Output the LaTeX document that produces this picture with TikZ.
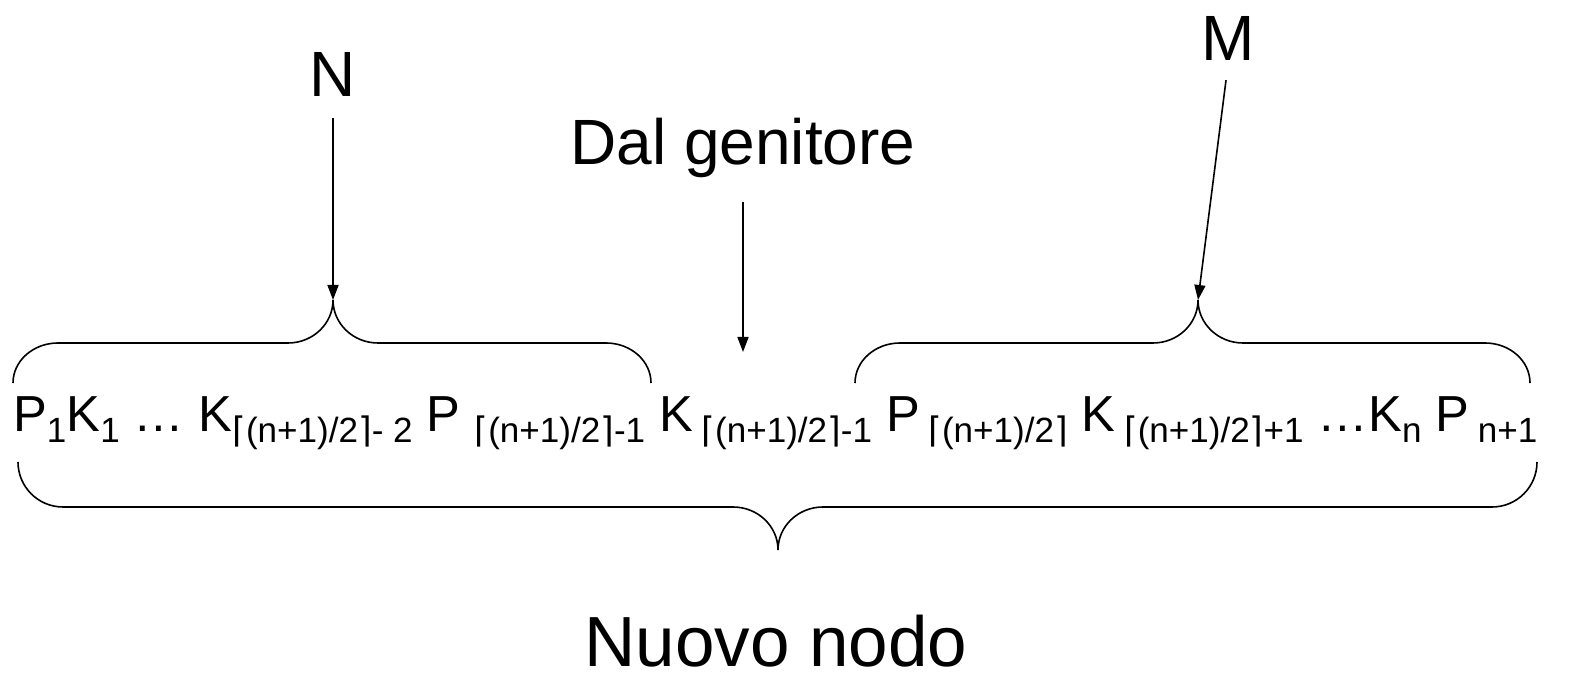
\documentclass[tikz,border=0pt]{standalone}
\usepackage{fontspec}
\setmainfont{Liberation Sans}
\newfontfamily\djv{DejaVu Sans}
\usetikzlibrary{arrows.meta}
\newcommand\lc{{\djv\char"2308}}
\newcommand\rc{{\djv\char"2309}}
\newcommand\sbx[1]{\raisebox{-11pt}{\fontsize{36}{38}\selectfont #1}}
\begin{document}
\begin{tikzpicture}[x=1pt,y=1pt,
  lbl/.style={inner sep=0pt,font=\fontsize{#1}{#1}\selectfont},
  brace/.style={line width=1.6pt,black},
  arr/.style={line width=1.6pt,-{Triangle[length=15pt,width=11pt]}}]
\useasboundingbox (0,0) rectangle (1573,682);
% texts
\node[lbl=64] (N) at (333,608) {N};
\node[lbl=64] (M) at (1228,644) {M};
\node[lbl=64] (D) at (743,534) {Dal genitore};
\node[lbl=71] (NN) at (776,41) {Nuovo nodo};
\node[lbl=52,anchor=base west] (row) at (13,250)
 {\resizebox{1524pt}{!}{P\sbx{1}K\sbx{1} \ldots\ K\sbx{\lc(n+1)/2\rc- 2} P \sbx{\lc(n+1)/2\rc-1} K\,\sbx{\lc(n+1)/2\rc-1} P\,\sbx{\lc(n+1)/2\rc} K\,\sbx{\lc(n+1)/2\rc+1} \ldots K\sbx{n} P\,\sbx{n+1}}};
% brace tips
\coordinate (tipN) at (333,382);
\coordinate (tipM) at (1198,382);
\coordinate (dalend) at (743,330);
% upper left brace
\draw[brace] (13,299) arc[start angle=180,end angle=90,x radius=45,y radius=40]
  -- (288,339) arc[start angle=270,end angle=360,x radius=45,y radius=43]
  arc[start angle=180,end angle=270,x radius=45,y radius=43]
  -- (606,339) arc[start angle=90,end angle=0,x radius=45,y radius=40];
% upper right brace
\draw[brace] (855,299) arc[start angle=180,end angle=90,x radius=45,y radius=40]
  -- (1153,339) arc[start angle=270,end angle=360,x radius=45,y radius=43]
  arc[start angle=180,end angle=270,x radius=45,y radius=43]
  -- (1485,339) arc[start angle=90,end angle=0,x radius=45,y radius=40];
% bottom brace
\draw[brace] (18,220) arc[start angle=180,end angle=270,x radius=45,y radius=45]
  -- (733,175) arc[start angle=90,end angle=0,x radius=45,y radius=43]
  arc[start angle=180,end angle=90,x radius=45,y radius=43]
  -- (1492,175) arc[start angle=270,end angle=360,x radius=45,y radius=45];
% arrows
\draw[arr] ([yshift=-22pt]N.south) -- (tipN);
\draw[arr] ([yshift=-20pt,xshift=-2pt]M.south) -- (tipM);
\draw[arr] ([yshift=-24pt]D.south) -- (dalend);
\end{tikzpicture}
\end{document}
